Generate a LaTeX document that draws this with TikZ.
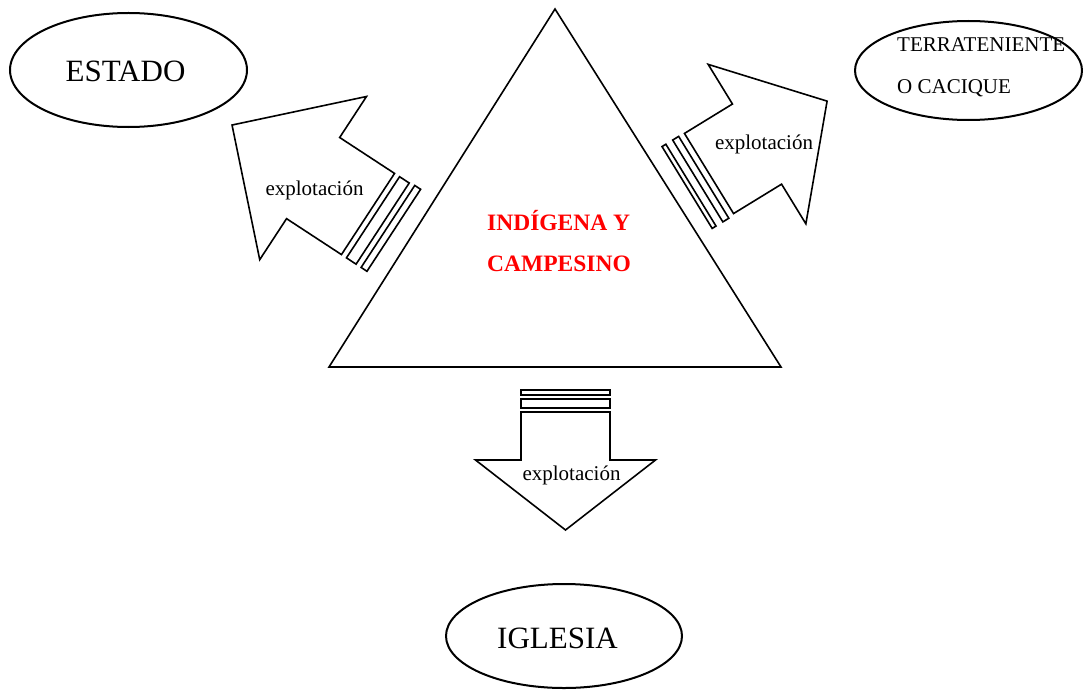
\documentclass[tikz,border=0pt]{standalone}
\usepackage{fontspec}
\setmainfont{Liberation Serif}
\usetikzlibrary{shapes.geometric}
\begin{document}
\begin{tikzpicture}[x=1pt,y=-1pt,
  oval/.style={ellipse,draw,line width=2pt,inner sep=0pt,outer sep=0pt},
  shapeline/.style={draw,line width=1.6pt,line join=miter,fill=white},
  bigtxt/.style={font=\fontsize{31}{37}\selectfont,inner sep=0pt,anchor=base},
  midtxt/.style={font=\fontsize{21}{25}\selectfont,inner sep=0pt,anchor=base west},
  exptxt/.style={font=\fontsize{21}{25}\selectfont,inner sep=0pt,anchor=base},
  redtxt/.style={font=\bfseries\fontsize{23.5}{28}\selectfont,text=red,inner sep=0pt,anchor=base west}]
\useasboundingbox (0,0) rectangle (1083,690);

% ellipses
\node[oval,minimum width=237pt,minimum height=114pt] (estado) at (128.5,70) {};
\node[bigtxt] (estadotxt) at (125.5,82) {ESTADO};

\node[oval,minimum width=227pt,minimum height=99pt] (terr) at (968.5,70.5) {};
\node[midtxt] (terr1) at (897,52) {TERRATENIENTE};
\node[midtxt] (terr2) at (897,93.5) {O CACIQUE};

\node[oval,minimum width=236pt,minimum height=104pt] (iglesia) at (564,636) {};
\node[bigtxt] (iglesiatxt) at (557.5,648) {IGLESIA};

% triangle
\coordinate (apex) at (555,9);
\coordinate (bl) at (329,367);
\coordinate (br) at (781,367);
\draw[line width=1.6pt,line join=miter] (apex) -- (bl) -- (br) -- cycle;
\node[redtxt] (ind1) at (487,230) {INDÍGENA Y};
\node[redtxt] (ind2) at (487,271) {CAMPESINO};

% left arrow (to ESTADO)
\begin{scope}[shift={(368,214)},rotate=146.8]
  \draw[shapeline] (0,-48.5) -- (65.6,-48.5) -- (65.6,-97.5) -- (162.5,0) -- (65.6,97.5) -- (65.6,48.5) -- (0,48.5) -- cycle;
  \draw[shapeline] (-6,-48.5) rectangle (-17.5,48.5);
  \draw[shapeline] (-23.5,-48.5) rectangle (-30.5,49.5);
\end{scope}
\node[exptxt] (expl) at (314.5,195) {explotación};

% right arrow (to TERRATENIENTE)
\begin{scope}[shift={(709,173.5)},rotate=31.5]
  \draw[shapeline] (0,-47) -- (56.3,-47) -- (56.3,-93.5) -- (138.5,0) -- (56.3,93.5) -- (56.3,47) -- (0,47) -- cycle;
  \draw[shapeline] (-6.5,-47.5) rectangle (-13.5,48.5);
  \draw[shapeline] (-21.5,-47.5) rectangle (-26,48.5);
\end{scope}
\node[exptxt] (expr) at (764,149) {explotación};

% down arrow (to IGLESIA)
\begin{scope}[shift={(565.5,412)},rotate=-90]
  \draw[shapeline] (0,-44.5) -- (48,-44.5) -- (48,-90) -- (118,0) -- (48,90) -- (48,44.5) -- (0,44.5) -- cycle;
  \draw[shapeline] (-4,-44.5) rectangle (-13,44.5);
  \draw[shapeline] (-17,-44.5) rectangle (-22,44.5);
\end{scope}
\node[exptxt] (expd) at (571.5,480) {explotación};
\end{tikzpicture}
\end{document}
